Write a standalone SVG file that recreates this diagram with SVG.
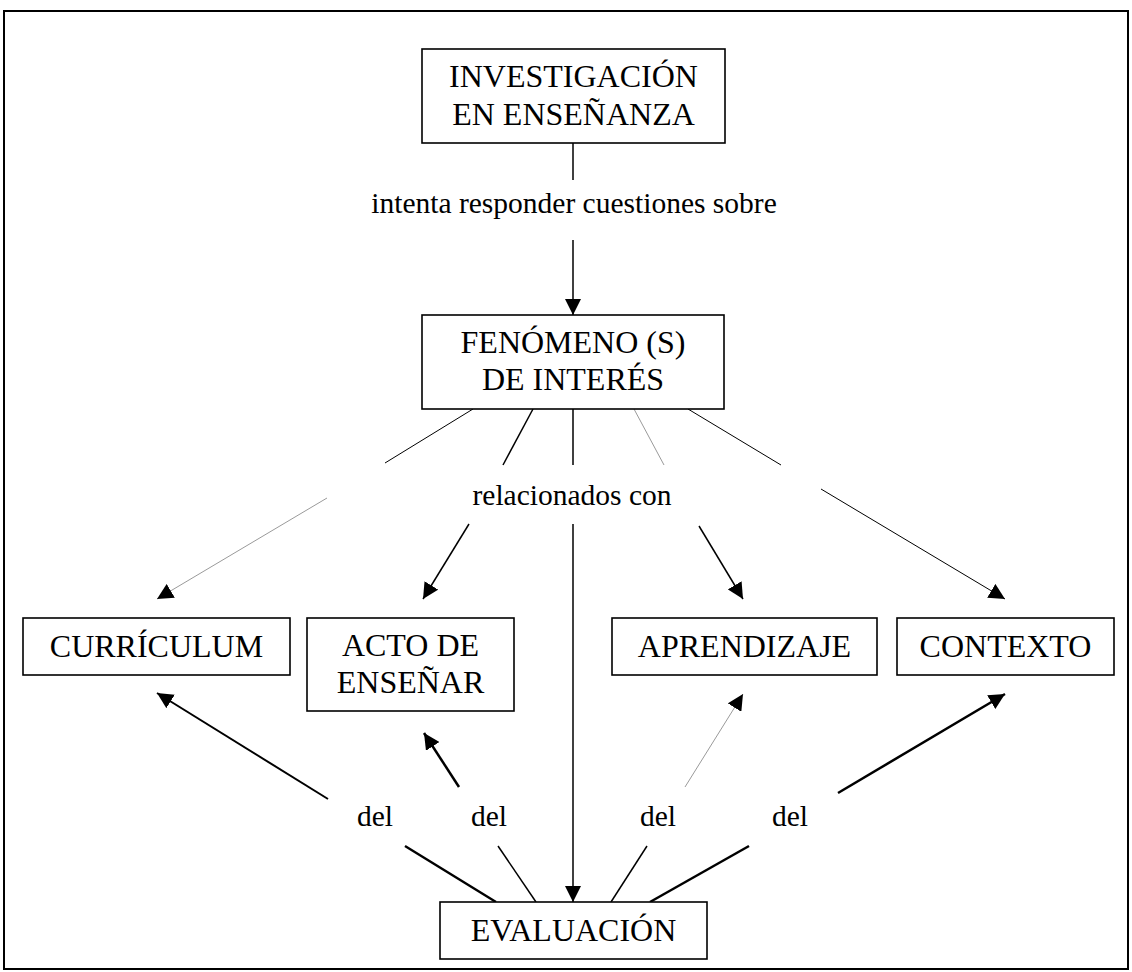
<svg xmlns="http://www.w3.org/2000/svg" width="1132" height="972" viewBox="0 0 1132 972">
<style>
.box{fill:#fff;stroke:#000;stroke-width:1.6}
.t{font-family:"Liberation Serif","Times New Roman",serif;font-size:32px;fill:#000;text-anchor:middle}
.lbl{font-family:"Liberation Serif","Times New Roman",serif;font-size:29.5px;fill:#000;text-anchor:middle}
.c{stroke:#000;fill:none}
.w1{stroke-width:1}
.w15{stroke-width:1.5}
.w2{stroke-width:2}
.w25{stroke-width:2.5}
.g{stroke:#9a9a9a;stroke-width:1}
.a{marker-end:url(#ah)}
</style>
<defs>
<marker id="ah" viewBox="0 0 16 16" refX="16" refY="8" markerWidth="16" markerHeight="16" markerUnits="userSpaceOnUse" orient="auto">
<path d="M0,0 L16,8 L0,16 z" fill="#000"/>
</marker>
</defs>
<rect x="0" y="0" width="1132" height="972" fill="#fff"/>
<rect id="frame" x="4" y="11" width="1124" height="958" fill="none" stroke="#000" stroke-width="2"/>

<g id="connectors">
<line class="c w15" x1="573" y1="143" x2="573" y2="180"/>
<line class="c w15 a" x1="573" y1="240" x2="573" y2="315"/>
<line class="c w1" x1="473" y1="409" x2="385" y2="463"/>
<line class="c w15" x1="533" y1="409" x2="503" y2="465"/>
<line class="c w15" x1="573" y1="409" x2="573" y2="465"/>
<line class="c g" x1="634" y1="409" x2="664" y2="465"/>
<line class="c w1" x1="688" y1="409" x2="781" y2="465"/>
<line class="c g a" x1="327" y1="498" x2="157" y2="599"/>
<line class="c w15 a" x1="469" y1="524" x2="423" y2="599"/>
<line class="c w15 a" x1="573" y1="524" x2="573" y2="902"/>
<line class="c w15 a" x1="699" y1="526" x2="743" y2="599"/>
<line class="c w1 a" x1="821" y1="489" x2="1005" y2="599"/>
<line class="c w25" x1="496" y1="902" x2="405" y2="846"/>
<line class="c w15" x1="536" y1="902" x2="498" y2="846"/>
<line class="c w15" x1="611" y1="902" x2="647" y2="846"/>
<line class="c w25" x1="650" y1="902" x2="749" y2="846"/>
<line class="c w2 a" x1="328" y1="799" x2="157" y2="693"/>
<line class="c w25 a" x1="459" y1="787" x2="424" y2="733"/>
<line class="c g a" x1="685" y1="787" x2="743" y2="694"/>
<line class="c w25 a" x1="838" y1="793" x2="1005" y2="694"/>
<text class="lbl" x="574" y="213">intenta responder cuestiones sobre</text>
<text class="lbl" x="572" y="505">relacionados con</text>
<text class="lbl" x="375" y="826">del</text>
<text class="lbl" x="489" y="826">del</text>
<text class="lbl" x="658" y="826">del</text>
<text class="lbl" x="790" y="826">del</text>
</g>

<g id="n-investigacion">
<rect class="box" x="422" y="49" width="303" height="94"/>
<text class="t" x="573.5" y="87">INVESTIGACIÓN</text>
<text class="t" x="573.5" y="125">EN ENSEÑANZA</text>
</g>
<g id="n-fenomeno">
<rect class="box" x="422" y="315" width="302" height="94"/>
<text class="t" x="573" y="353">FENÓMENO (S)</text>
<text class="t" x="573" y="390">DE INTERÉS</text>
</g>
<g id="n-curriculum">
<rect class="box" x="23" y="618" width="267" height="57"/>
<text class="t" x="156.5" y="657">CURRÍCULUM</text>
</g>
<g id="n-acto">
<rect class="box" x="307" y="618" width="207" height="93"/>
<text class="t" x="410.5" y="656">ACTO DE</text>
<text class="t" x="410.5" y="693">ENSEÑAR</text>
</g>
<g id="n-aprendizaje">
<rect class="box" x="612" y="618" width="265" height="57"/>
<text class="t" x="744.5" y="657">APRENDIZAJE</text>
</g>
<g id="n-contexto">
<rect class="box" x="897" y="618" width="217" height="57"/>
<text class="t" x="1005.5" y="657">CONTEXTO</text>
</g>
<g id="n-evaluacion">
<rect class="box" x="440" y="902" width="267" height="57"/>
<text class="t" x="573.5" y="941">EVALUACIÓN</text>
</g>
</svg>
